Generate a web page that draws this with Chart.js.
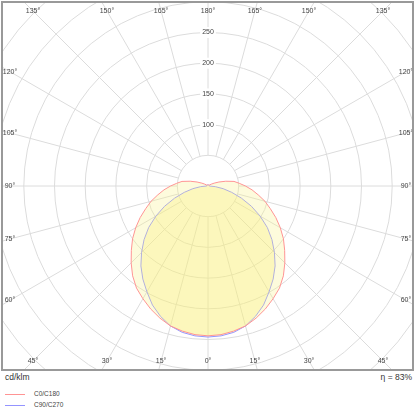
<!DOCTYPE html>
<html>
<head>
<meta charset="utf-8">
<script src="https://cdn.jsdelivr.net/npm/chart.js@4.4.1/dist/chart.umd.min.js"></script>
<style>
  body { margin: 0; background: #fff; width: 416px; height: 414px; position: relative; overflow: hidden;
         font-family: 'Liberation Sans', Arial, sans-serif; color: #333; }
  #frame { position: absolute; left: 1px; top: 1px; width: 409px; height: 366px;
           border: 2px solid #999; overflow: hidden; }
  #polar { position: absolute; }
  .txt { position: absolute; white-space: nowrap; }
  #unit { left: 5px; top: 372px; font-size: 8.5px; }
  #eta { right: 4px; top: 372px; font-size: 8.5px; }
  .key { position: absolute; left: 5px; width: 20px; height: 1px; }
  .keytxt { position: absolute; left: 34px; font-size: 6.5px; color: #444; }
</style>
</head>
<body>
<div id="frame"><canvas id="polar" width="626" height="626"></canvas></div>
<div class="txt" id="unit">cd/klm</div>
<div class="txt" id="eta">η = 83%</div>
<div class="key" style="top:394px;background:#ff9494"></div>
<div class="txt keytxt" style="top:390px">C0/C180</div>
<div class="key" style="top:405px;background:#9494ff"></div>
<div class="txt keytxt" style="top:401px">C90/C270</div>

<script>
// gamma angles (from nadir), 5 degree steps
const gammaDeg = [0, 5, 10, 15, 20, 25, 30, 35, 40, 45, 50, 55, 60, 65, 70, 75, 80, 85, 90,
  95, 100, 105, 110, 115, 120, 125, 130, 135, 140, 145, 150, 155, 160, 165, 170, 175, 180];

// intensities cd/klm
const c0c180 = [244, 243, 240, 236, 229, 221, 212, 203, 191, 177, 163, 150, 136, 122, 108, 96, 83, 72, 61,
  51, 43, 30, 19, 11, 6, 3, 2, 2, 2, 2, 2, 2, 2, 2, 2, 2, 2];
const c90c270 = [246, 245, 242, 236, 226, 214, 199, 185, 170, 153, 136, 118, 98, 78, 58, 40, 25, 12, 2,
  2, 2, 2, 2, 2, 2, 2, 2, 2, 2, 2, 2, 2, 2, 2, 2, 2, 2];

const ringLabels = [100, 150, 200, 250];
const innerRing = 50;
const gridColor = '#dcdcdc';

// polar center on the page
const CX = 208, CY = 186;
const FRAME_IN = 3;

// radar goes clockwise from the top: 180 at top, 0 at bottom
const positions = [];
for (let i = 0; i < 72; i++) positions.push(Math.abs(180 - 5 * i));
const labels = positions.map(g => g + '°');

const valueAt = (arr, g) => arr[gammaDeg.indexOf(g)];

// grid spokes and the angle labels along the frame
const framePlugin = {
  id: 'framePlugin',
  beforeDraw(chart) {
    const s = chart.scales.r;
    const ctx = chart.ctx;
    ctx.save();
    ctx.strokeStyle = gridColor;
    ctx.lineWidth = 1;
    positions.forEach((g, i) => {
      if (g % 15 !== 0) return;
      const a = s.getPointPosition(i, s.getDistanceFromCenterForValue(innerRing));
      const b = s.getPointPosition(i, s.getDistanceFromCenterForValue(s.max));
      ctx.beginPath();
      ctx.moveTo(a.x, a.y);
      ctx.lineTo(b.x, b.y);
      ctx.stroke();
    });
    ctx.restore();
  },
  afterDraw(chart) {
    const s = chart.scales.r;
    const ctx = chart.ctx;
    const hw = 198, hh = 175;
    ctx.save();
    ctx.font = "7px 'Liberation Sans', Arial, sans-serif";
    ctx.fillStyle = '#444';
    ctx.textAlign = 'center';
    ctx.textBaseline = 'middle';
    positions.forEach((g, i) => {
      if (g % 15 !== 0) return;
      const p = s.getPointPosition(i, 100);
      const ux = (p.x - s.xCenter) / 100, uy = (p.y - s.yCenter) / 100;
      const t = Math.min(Math.abs(ux) > 1e-6 ? hw / Math.abs(ux) : 1e9,
                         Math.abs(uy) > 1e-6 ? hh / Math.abs(uy) : 1e9);
      ctx.fillText(labels[i], s.xCenter + ux * t, s.yCenter + uy * t);
    });
    ctx.restore();
  }
};

const canvas = document.getElementById('polar');
const chart = new Chart(canvas.getContext('2d'), {
  type: 'radar',
  data: {
    labels: labels,
    datasets: [{
      label: 'C0/C180',
      data: positions.map(g => valueAt(c0c180, g)),
      borderColor: '#ff9494',
      backgroundColor: 'rgba(250, 242, 140, 0.3)',
      borderWidth: 1,
      fill: true,
      pointRadius: 0,
    }, {
      label: 'C90/C270',
      data: positions.map(g => valueAt(c90c270, g)),
      borderColor: '#9494ff',
      backgroundColor: 'rgba(250, 238, 90, 0.27)',
      borderWidth: 1,
      fill: true,
      pointRadius: 0,
    }],
  },
  options: {
    responsive: false,
    animation: false,
    layout: { padding: 0 },
    plugins: { legend: { display: false }, tooltip: { enabled: false } },
    elements: { line: { tension: 0 } },
    scales: {
      r: {
        min: 0,
        max: 500,
        startAngle: 0,
        angleLines: { display: false },
        pointLabels: { display: false },
        grid: { circular: true, color: gridColor, lineWidth: 1 },
        ticks: {
          stepSize: 50,
          color: '#444',
          font: { size: 7, family: "'Liberation Sans', Arial, sans-serif" },
          backdropColor: '#fff',
          backdropPadding: 2,
          showLabelBackdrop: (c) => ringLabels.includes(c.tick && c.tick.value),
          callback: (v) => ringLabels.includes(v) ? String(v) : '',
        },
      },
    },
  },
  plugins: [framePlugin],
});

const r = chart.scales.r;
canvas.style.left = (CX - FRAME_IN - r.xCenter) + 'px';
canvas.style.top = (CY - FRAME_IN - r.yCenter) + 'px';
</script>
</body>
</html>
